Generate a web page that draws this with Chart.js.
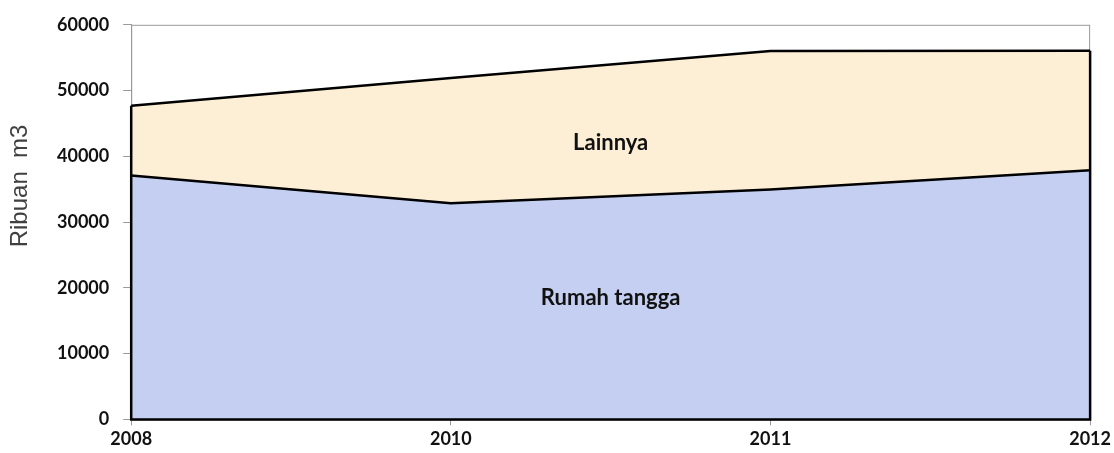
<!DOCTYPE html>
<html lang="id">
<head>
  <meta charset="UTF-8">
  <title>Ribuan m3</title>
  <script src="https://cdn.jsdelivr.net/npm/chart.js"></script>
  <style>
    html, body { margin: 0; padding: 0; background: #fff; }
    #wrap { width: 1114px; height: 453px; }
  </style>
</head>
<body>
<div id="wrap"><canvas id="chart" width="1114" height="453"></canvas></div>
<script>
const years = ['2008', '2010', '2011', '2012'];
const rumahTangga = [37100, 32850, 34950, 37900];
const lainnya = [10600, 19050, 21050, 18150];
const yTicks = [0, 10000, 20000, 30000, 40000, 50000, 60000];
const yTitle = 'Ribuan  m3';

const tickFont = { family: 'Lato', size: 18, weight: 'bold' };

// plot frame, area outline, in-chart labels and the y title
const areaDecor = {
  id: 'areaDecor',
  beforeDatasetsDraw(chart) {
    const { ctx, chartArea: a } = chart;
    ctx.save();
    ctx.strokeStyle = '#9a9a9a';
    ctx.lineWidth = 1;
    ctx.strokeRect(a.left + 0.5, a.top + 0.5, a.right - a.left - 1, a.bottom - a.top);
    ctx.restore();
  },
  afterDatasetsDraw(chart) {
    const { ctx, scales: { x, y } } = chart;
    const top = chart.getDatasetMeta(1).data;
    const last = top.length - 1;
    const y0 = y.getPixelForValue(0);
    ctx.save();
    ctx.strokeStyle = '#000';
    ctx.lineWidth = 2.5;
    ctx.beginPath();
    ctx.moveTo(top[0].x, top[0].y);
    ctx.lineTo(top[0].x, y0);
    ctx.lineTo(top[last].x, y0);
    ctx.lineTo(top[last].x, top[last].y);
    ctx.stroke();

    ctx.fillStyle = '#111';
    ctx.font = 'bold 22px Lato';
    ctx.textAlign = 'center';
    ctx.textBaseline = 'middle';
    ctx.fillText('Lainnya', x.getPixelForValue(1.5), y.getPixelForValue(42000));
    ctx.fillText('Rumah tangga', x.getPixelForValue(1.5), y.getPixelForValue(18500));

    ctx.translate(20, y.getPixelForValue(35500));
    ctx.rotate(-Math.PI / 2);
    ctx.fillStyle = '#404040';
    ctx.font = '24px "Liberation Sans"';
    ctx.fillText(yTitle, 0, 0);
    ctx.restore();
  }
};

new Chart(document.getElementById('chart'), {
  type: 'line',
  data: {
    labels: years,
    datasets: [
      {
        label: 'Rumah tangga',
        data: rumahTangga,
        fill: 'origin',
        backgroundColor: '#c4cff2',
        borderColor: '#000',
        borderWidth: 2.5,
        pointRadius: 0,
        tension: 0
      },
      {
        label: 'Lainnya',
        data: lainnya,
        fill: '-1',
        backgroundColor: '#fcefd5',
        borderColor: '#000',
        borderWidth: 2.5,
        pointRadius: 0,
        tension: 0
      }
    ]
  },
  options: {
    responsive: false,
    animation: false,
    layout: { padding: { top: 14, right: 4, left: 43, bottom: 0 } },
    plugins: { legend: { display: false }, tooltip: { enabled: false } },
    scales: {
      x: {
        offset: false,
        grid: { display: true, drawOnChartArea: false, drawTicks: true, tickLength: 6, color: '#9a9a9a' },
        border: { color: '#9a9a9a' },
        ticks: { color: '#111', font: tickFont, padding: 3, maxRotation: 0 }
      },
      y: {
        stacked: true,
        min: 0,
        max: 60000,
        afterBuildTicks(axis) { axis.ticks = yTicks.map(v => ({ value: v })); },
        grid: { display: true, drawOnChartArea: false, drawTicks: true, tickLength: 8, color: '#9a9a9a' },
        border: { color: '#9a9a9a' },
        ticks: { color: '#111', font: tickFont, padding: 14, callback: v => String(v) }
      }
    }
  },
  plugins: [areaDecor]
});
</script>
</body>
</html>
